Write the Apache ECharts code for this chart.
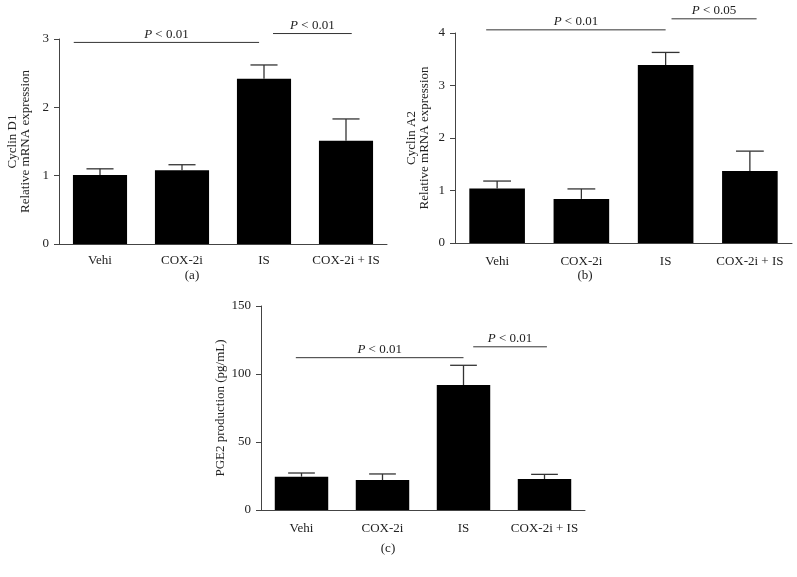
<!DOCTYPE html>
<html>
<head>
<meta charset="utf-8">
<script src="https://cdn.jsdelivr.net/npm/echarts@6/dist/echarts.min.js"></script>
<style>
  html, body { margin: 0; padding: 0; background: #fff; }
  #chart { width: 797px; height: 577px; }
</style>
</head>
<body>
<div id="chart"></div>
<script>
// groups on the x axis
const groups = ['Vehi', 'COX-2i', 'IS', 'COX-2i + IS'];

// (a) Cyclin D1: mean and top of error bar
const cyclinD1Mean = [1.01, 1.08, 2.42, 1.51];
const cyclinD1Upper = [1.10, 1.16, 2.62, 1.83];
// (b) Cyclin A2
const cyclinA2Mean = [1.04, 0.84, 3.39, 1.37];
const cyclinA2Upper = [1.18, 1.03, 3.63, 1.75];
// (c) PGE2 production
const pge2Mean = [24.5, 22, 91.9, 22.8];
const pge2Upper = [27.2, 26.5, 106.4, 26.2];

// significance brackets: [from (category units), to, y value, p]
const sigD1 = [[-0.32, 1.94, 2.95, '0.01'], [2.11, 3.07, 3.08, '0.01']];
const sigA2 = [[-0.13, 2.0, 4.06, '0.01'], [2.07, 3.08, 4.27, '0.05']];
const sigPGE2 = [[-0.07, 2.0, 112, '0.01'], [2.12, 3.03, 120, '0.01']];

const FONT = '"Liberation Serif", "DejaVu Serif", serif';
const INK = '#222';
const AXIS = '#444';

const chart = echarts.init(document.getElementById('chart'));

function xAxisFor(idx, margin) {
  return {
    type: 'category',
    gridIndex: idx,
    data: groups,
    axisLine: { lineStyle: { color: AXIS, width: 1 } },
    axisTick: { alignWithLabel: true, length: 4, lineStyle: { color: AXIS } },
    axisLabel: { interval: 0, color: INK, fontFamily: FONT, fontSize: 13, margin: margin }
  };
}

function yAxisFor(idx, max, interval, name, gap) {
  return {
    type: 'value',
    gridIndex: idx,
    min: 0, max: max, interval: interval,
    name: name,
    nameLocation: 'middle',
    nameGap: gap,
    nameTextStyle: { color: INK, fontFamily: FONT, fontSize: 13, lineHeight: 13 },
    axisLine: { show: true, lineStyle: { color: AXIS, width: 1 } },
    axisTick: { show: true, length: 5, lineStyle: { color: AXIS } },
    axisLabel: { color: INK, fontFamily: FONT, fontSize: 13, margin: 10 },
    splitLine: { show: false }
  };
}

function barSeries(idx, data) {
  return {
    type: 'bar',
    xAxisIndex: idx, yAxisIndex: idx,
    data: data,
    barCategoryGap: '34%',
    itemStyle: { color: '#000' },
    silent: true
  };
}

function errorSeries(idx, mean, upper) {
  return {
    type: 'custom',
    xAxisIndex: idx, yAxisIndex: idx,
    data: mean.map((m, i) => [i, m, upper[i]]),
    encode: { x: 0, y: [1, 2] },
    z: 3,
    silent: true,
    renderItem(params, api) {
      const lo = api.coord([api.value(0), api.value(1)]);
      const hi = api.coord([api.value(0), api.value(2)]);
      const half = api.size([1, 0])[0] * 0.66 * 0.25;
      const style = { stroke: '#333', lineWidth: 1.3 };
      return {
        type: 'group',
        children: [
          { type: 'line', shape: { x1: lo[0], y1: lo[1], x2: hi[0], y2: hi[1] }, style },
          { type: 'line', shape: { x1: hi[0] - half, y1: hi[1], x2: hi[0] + half, y2: hi[1] }, style }
        ]
      };
    }
  };
}

function sigSeries(idx, sig) {
  return {
    type: 'custom',
    xAxisIndex: idx, yAxisIndex: idx,
    data: sig.map(s => [0, s[0], s[1], s[2]]),
    encode: { x: 0, y: 3 },
    z: 4,
    silent: true,
    renderItem(params, api) {
      const base = api.coord([0, api.value(3)]);
      const band = api.size([1, 0])[0];
      const x1 = base[0] + api.value(1) * band;
      const x2 = base[0] + api.value(2) * band;
      const y = base[1];
      return {
        type: 'group',
        children: [
          { type: 'line', shape: { x1, y1: y, x2, y2: y }, style: { stroke: '#333', lineWidth: 1 } },
          {
            type: 'text',
            x: (x1 + x2) / 2, y: y - 8,
            style: {
              text: '{i|P} < ' + sig[params.dataIndex][3],
              align: 'center', verticalAlign: 'middle',
              fill: INK, font: '13px ' + FONT,
              rich: { i: { fontStyle: 'italic', fontFamily: FONT, fontSize: 13, fill: INK } }
            }
          }
        ]
      };
    }
  };
}

chart.setOption({
  animation: false,
  backgroundColor: '#fff',
  grid: [
    { left: 59, right: 410, top: 39, bottom: 333 },
    { left: 455, right: 5, top: 33, bottom: 334 },
    { left: 261, right: 212, top: 306, bottom: 67 }
  ],
  xAxis: [xAxisFor(0, 10), xAxisFor(1, 12), xAxisFor(2, 12)],
  yAxis: [
    yAxisFor(0, 3, 1, 'Cyclin D1\nRelative mRNA expression', 27),
    yAxisFor(1, 4, 1, 'Cyclin A2\nRelative mRNA expression', 24),
    yAxisFor(2, 150, 50, 'PGE2 production (pg/mL)', 34)
  ],
  series: [
    barSeries(0, cyclinD1Mean), errorSeries(0, cyclinD1Mean, cyclinD1Upper), sigSeries(0, sigD1),
    barSeries(1, cyclinA2Mean), errorSeries(1, cyclinA2Mean, cyclinA2Upper), sigSeries(1, sigA2),
    barSeries(2, pge2Mean), errorSeries(2, pge2Mean, pge2Upper), sigSeries(2, sigPGE2)
  ],
  graphic: [
    { type: 'text', x: 192, y: 276, style: { text: '(a)', align: 'center', verticalAlign: 'middle', fill: INK, font: '13px ' + FONT } },
    { type: 'text', x: 585, y: 276, style: { text: '(b)', align: 'center', verticalAlign: 'middle', fill: INK, font: '13px ' + FONT } },
    { type: 'text', x: 388, y: 549, style: { text: '(c)', align: 'center', verticalAlign: 'middle', fill: INK, font: '13px ' + FONT } }
  ]
});
</script>
</body>
</html>
